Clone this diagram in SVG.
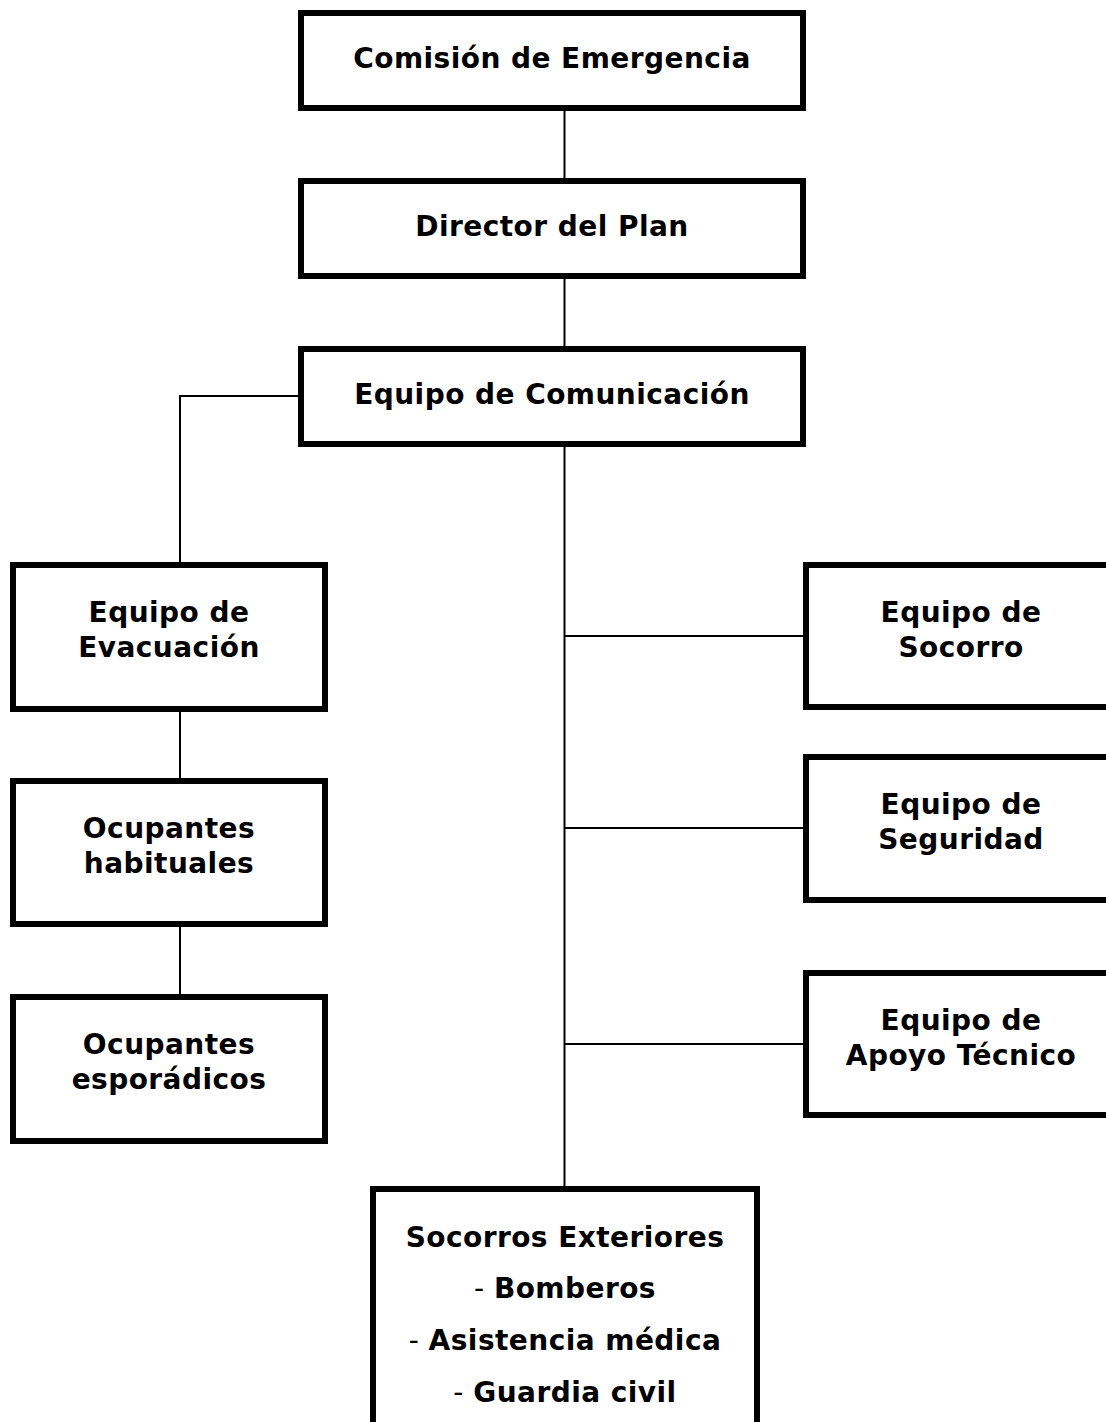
<svg xmlns="http://www.w3.org/2000/svg" width="1106" height="1422" viewBox="0 0 1106 1422">
<style>
.box{fill:#fff;stroke:#000;stroke-width:6}
.con{fill:none;stroke:#000;stroke-width:2}
text{font-family:"DejaVu Sans","Liberation Sans",sans-serif;font-weight:bold;font-size:28px;letter-spacing:0.45px;fill:#000;text-anchor:middle}
.n{font-weight:normal}
</style>
<rect width="1106" height="1422" fill="#fff"/>
<g id="connectors">
<path class="con" d="M564.5 110V178M564.5 278V346M564.5 446V1186"/>
<path class="con" d="M298 396H180V562"/>
<path class="con" d="M180 712V778M180 927V994"/>
<path class="con" d="M564.5 636H803M564.5 828H803M564.5 1044H803"/>
</g>
<g id="comision"><rect class="box" x="301" y="13" width="502" height="95"/><text x="552" y="68">Comisión de Emergencia</text></g>
<g id="director"><rect class="box" x="301" y="181" width="502" height="95"/><text x="552" y="236">Director del Plan</text></g>
<g id="comunicacion"><rect class="box" x="301" y="349" width="502" height="95"/><text x="552" y="404">Equipo de Comunicación</text></g>
<g id="evacuacion"><rect class="box" x="13" y="565" width="312" height="144"/><text x="169" y="622">Equipo de</text><text x="169" y="657">Evacuación</text></g>
<g id="habituales"><rect class="box" x="13" y="781" width="312" height="143"/><text x="169" y="838">Ocupantes</text><text x="169" y="873">habituales</text></g>
<g id="esporadicos"><rect class="box" x="13" y="997" width="312" height="144"/><text x="169" y="1054">Ocupantes</text><text x="169" y="1089">esporádicos</text></g>
<g id="socorro"><rect class="box" x="806" y="565" width="312" height="142"/><text x="961" y="622">Equipo de</text><text x="961" y="657">Socorro</text></g>
<g id="seguridad"><rect class="box" x="806" y="757" width="312" height="143"/><text x="961" y="814">Equipo de</text><text x="961" y="849">Seguridad</text></g>
<g id="apoyo"><rect class="box" x="806" y="973" width="312" height="142"/><text x="961" y="1030">Equipo de</text><text x="961" y="1065">Apoyo Técnico</text></g>
<g id="exteriores"><rect class="box" x="373" y="1189" width="384" height="260"/>
<text x="565" y="1247">Socorros Exteriores</text>
<text x="565" y="1298"><tspan class="n">- </tspan>Bomberos</text>
<text x="565" y="1350"><tspan class="n">- </tspan>Asistencia médica</text>
<text x="565" y="1402"><tspan class="n">- </tspan>Guardia civil</text>
</g>
</svg>
